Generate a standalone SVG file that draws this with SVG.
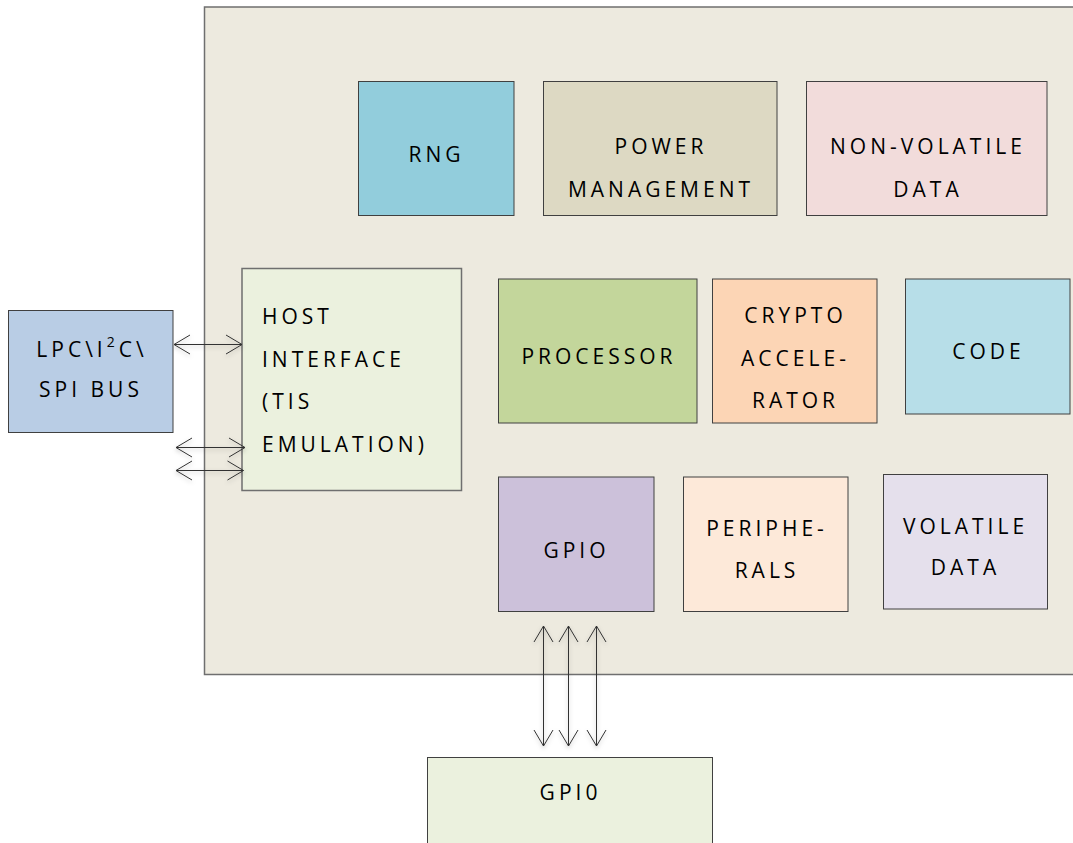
<svg xmlns="http://www.w3.org/2000/svg" width="1073" height="843" viewBox="0 0 1073 843">
<style>
.box{stroke:#404040;stroke-width:1}
.t{font-family:"Open Sans","Liberation Sans",sans-serif;font-size:21px;letter-spacing:4px;fill:#000000}
.c{text-anchor:middle}
.ln{stroke:#333;stroke-width:1;fill:none;marker-start:url(#oa);marker-end:url(#oa)}
</style>
<defs>
<marker id="oa" markerUnits="userSpaceOnUse" orient="auto-start-reverse" overflow="visible" refX="0" refY="0" markerWidth="20" markerHeight="20">
<path d="M-16,-9.5 L0,0 L-16,9.5" fill="none" stroke="#333" stroke-width="1"/>
</marker>
<filter id="sh" x="-20%" y="-20%" width="140%" height="140%">
<feDropShadow dx="0" dy="2" stdDeviation="2" flood-color="#000" flood-opacity="0.25"/>
</filter>
</defs>
<rect width="1073" height="843" fill="#ffffff"/>
<g id="container">
<rect x="204.5" y="7" width="880" height="667.5" fill="#EDEADF" stroke="#6f6f6f" stroke-width="1.5"/>
</g>
<g id="rng"><rect class="box" x="358.5" y="81.5" width="155.5" height="134" fill="#92CDDC"/><text class="t c" x="436.5" y="162">RNG</text></g>
<g id="power"><rect class="box" x="543.5" y="81.5" width="233.5" height="134" fill="#DDD9C3"/><text class="t c" x="661" y="154">POWER</text><text class="t c" x="661" y="196.5">MANAGEMENT</text></g>
<g id="nonvolatile"><rect class="box" x="806.5" y="81.5" width="240.5" height="134" fill="#F2DCDB"/><text class="t c" x="928" y="154">NON-VOLATILE</text><text class="t c" x="928" y="196.5">DATA</text></g>
<g id="host"><rect x="242" y="268.5" width="219.5" height="222" fill="#EBF1DE" stroke="#6f6f6f" stroke-width="1.5"/><text class="t" x="262" y="323.5">HOST</text><text class="t" x="262" y="366.5">INTERFACE</text><text class="t" x="262" y="409">(TIS</text><text class="t" x="262" y="452">EMULATION)</text></g>
<g id="processor"><rect class="box" x="498.5" y="279" width="198.5" height="144" fill="#C3D69B"/><text class="t c" x="599" y="364">PROCESSOR</text></g>
<g id="crypto"><rect class="box" x="712.5" y="279" width="164.5" height="144" fill="#FCD5B5"/><text class="t c" x="795.5" y="323">CRYPTO</text><text class="t c" x="795.5" y="365.5">ACCELE-</text><text class="t c" x="795.5" y="408">RATOR</text></g>
<g id="code"><rect class="box" x="905.5" y="279" width="164.5" height="135" fill="#B7DEE8"/><text class="t c" x="988.5" y="359">CODE</text></g>
<g id="gpio"><rect class="box" x="498.5" y="477" width="155.5" height="134.5" fill="#CCC1DA"/><text class="t c" x="576.5" y="558">GPIO</text></g>
<g id="peripherals"><rect class="box" x="683.5" y="477" width="164.5" height="134.5" fill="#FDE9D9"/><text class="t c" x="767" y="535.5">PERIPHE-</text><text class="t c" x="767" y="578">RALS</text></g>
<g id="volatile"><rect class="box" x="883.5" y="474.5" width="164" height="134.5" fill="#E5E0EC"/><text class="t c" x="965.5" y="534">VOLATILE</text><text class="t c" x="965.5" y="575">DATA</text></g>
<g id="lpc"><rect class="box" x="8.5" y="310.5" width="164.5" height="122" fill="#B9CDE5"/><text class="t c" x="92" y="356.5">LPC\I<tspan font-size="14" dy="-10">2</tspan><tspan dy="10">C\</tspan></text><text class="t c" x="91" y="396.5">SPI BUS</text></g>
<g id="gpio-ext"><rect class="box" x="427.5" y="757.5" width="285" height="100" fill="#EBF1DE"/><text class="t c" x="570.5" y="800">GPI0</text></g>
<g id="connectors" filter="url(#sh)">
<line class="ln" x1="174" y1="344.5" x2="242" y2="344.5"/>
<line class="ln" x1="176" y1="447.5" x2="245" y2="447.5"/>
<line class="ln" x1="176" y1="470.5" x2="243.5" y2="470.5"/>
<line class="ln" x1="543.5" y1="626" x2="543.5" y2="746"/>
<line class="ln" x1="568.5" y1="626" x2="568.5" y2="746"/>
<line class="ln" x1="596.5" y1="626" x2="596.5" y2="746"/>
</g>
</svg>
